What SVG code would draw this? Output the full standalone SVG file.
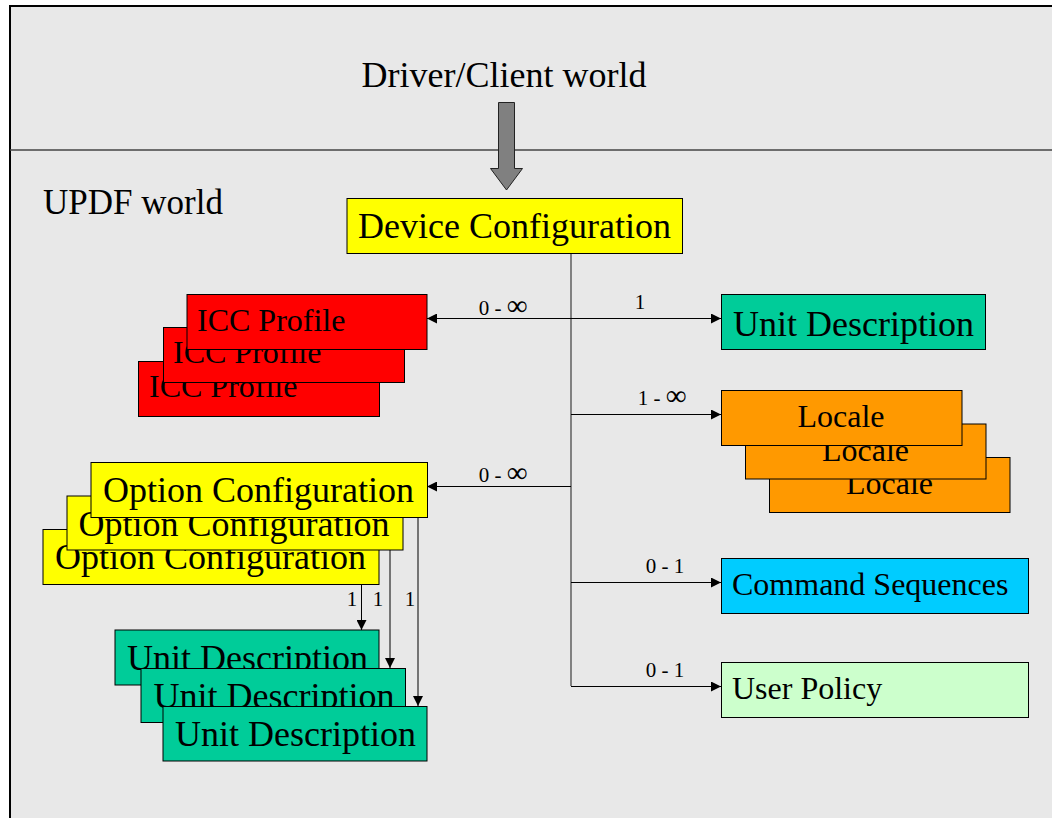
<svg xmlns="http://www.w3.org/2000/svg" width="1052" height="818" viewBox="0 0 1052 818">
  <style>
    text { font-family: "Liberation Serif", "Times New Roman", serif; fill: #000; }
    .big { font-size: 36px; }
    .mid { font-size: 32px; }
    .lbl { font-size: 21px; text-anchor: middle; }
    .inf { font-size: 29px; }
    .box { stroke: #000; stroke-width: 1; }
    .icc { fill: #ff0000; }
    .yel { fill: #ffff00; }
    .grn { fill: #00cc99; }
    .org { fill: #ff9900; }
    .cya { fill: #00ccff; }
    .pal { fill: #ccffcc; }
    .wire { fill: none; stroke: #000; stroke-width: 1; }
    .trunk { fill: none; stroke: #666; stroke-width: 1.6; }
  </style>
  <defs>
    <marker id="ah" viewBox="0 0 10 10" refX="10" refY="5" markerWidth="10" markerHeight="10" markerUnits="userSpaceOnUse" orient="auto-start-reverse">
      <path d="M0,0 L10,5 L0,10 Z" fill="#000"/>
    </marker>
  </defs>

  <!-- page and frame -->
  <rect x="0" y="0" width="1052" height="818" fill="#ffffff"/>
  <rect x="10" y="6" width="1042" height="812" fill="#e8e8e8"/>
  <path d="M10,818 L10,6 L1052,6" fill="none" stroke="#000" stroke-width="2"/>
  <line x1="10" y1="150" x2="1052" y2="150" stroke="#444" stroke-width="1.5"/>

  <text x="504" y="87" class="big" text-anchor="middle">Driver/Client world</text>
  <text x="43" y="214" style="font-size:35px">UPDF world</text>

  <!-- hand-off arrow -->
  <path d="M498.5,102.5 L514.5,102.5 L514.5,168.5 L522.5,168.5 L506.5,190 L490.5,168.5 L498.5,168.5 Z" fill="#808080" stroke="#222" stroke-width="1"/>

  <g id="connectors">
    <line class="trunk" x1="571" y1="253" x2="571" y2="686"/>
    <line class="wire" x1="571" y1="318.5" x2="427" y2="318.5" marker-end="url(#ah)"/>
    <line class="wire" x1="571" y1="318.5" x2="721" y2="318.5" marker-end="url(#ah)"/>
    <line class="wire" x1="571" y1="414.5" x2="721" y2="414.5" marker-end="url(#ah)"/>
    <line class="wire" x1="571" y1="486.5" x2="427" y2="486.5" marker-end="url(#ah)"/>
    <line class="wire" x1="571" y1="582.5" x2="721" y2="582.5" marker-end="url(#ah)"/>
    <line class="wire" x1="571" y1="686.5" x2="721" y2="686.5" marker-end="url(#ah)"/>
    <line class="wire" x1="361.5" y1="584" x2="361.5" y2="630" marker-end="url(#ah)"/>
    <line class="wire" x1="390" y1="550" x2="390" y2="668" stroke="#555" marker-end="url(#ah)"/>
    <line class="wire" x1="418" y1="517" x2="418" y2="706" stroke="#555" marker-end="url(#ah)"/>
    <text x="503" y="315" class="lbl">0 - <tspan class="inf">∞</tspan></text>
    <text x="640" y="309" class="lbl">1</text>
    <text x="662" y="405" class="lbl">1 - <tspan class="inf">∞</tspan></text>
    <text x="503" y="482" class="lbl">0 - <tspan class="inf">∞</tspan></text>
    <text x="665" y="573" class="lbl">0 - 1</text>
    <text x="665" y="677" class="lbl">0 - 1</text>
    <text x="352" y="606" class="lbl">1</text>
    <text x="378" y="606" class="lbl">1</text>
    <text x="410" y="606" class="lbl">1</text>
  </g>

  <g id="device-configuration">
    <rect class="box yel" x="347" y="198.5" width="335.5" height="55"/>
    <text x="514.5" y="238" class="big" text-anchor="middle">Device Configuration</text>
  </g>

  <g id="icc-profile">
    <rect class="box icc" x="138.5" y="361.5" width="241" height="55"/>
    <text x="149" y="397" class="mid">ICC Profile</text>
    <rect class="box icc" x="163.5" y="327.5" width="241" height="55"/>
    <text x="173" y="363" class="mid">ICC Profile</text>
    <rect class="box icc" x="187" y="294.5" width="240" height="55"/>
    <text x="197" y="331" class="mid">ICC Profile</text>
  </g>

  <g id="unit-description">
    <rect class="box grn" x="721.5" y="294.5" width="264" height="55"/>
    <text x="733" y="336" class="big">Unit Description</text>
  </g>

  <g id="locale">
    <rect class="box org" x="769.5" y="457.5" width="240.5" height="55"/>
    <text x="889.5" y="494" class="mid" text-anchor="middle">Locale</text>
    <rect class="box org" x="745.5" y="424" width="240.5" height="55"/>
    <text x="865.5" y="460.5" class="mid" text-anchor="middle">Locale</text>
    <rect class="box org" x="721.5" y="390.5" width="240.5" height="55"/>
    <text x="841" y="427" class="mid" text-anchor="middle">Locale</text>
  </g>

  <g id="option-configuration">
    <rect class="box yel" x="43" y="529.5" width="336" height="55"/>
    <text x="55" y="568.5" class="big">Option Configuration</text>
    <rect class="box yel" x="67" y="496" width="336" height="54"/>
    <text x="78.5" y="536" class="big">Option Configuration</text>
    <rect class="box yel" x="91" y="462.5" width="336.5" height="55"/>
    <text x="103" y="502" class="big">Option Configuration</text>
  </g>

  <g id="option-unit-description">
    <rect class="box grn" x="115" y="630" width="264" height="55"/>
    <text x="127" y="669.5" class="big">Unit Description</text>
    <rect class="box grn" x="141" y="668.5" width="264.5" height="54"/>
    <text x="153.5" y="708" class="big">Unit Description</text>
    <rect class="box grn" x="163" y="706.5" width="264" height="54.5"/>
    <text x="175" y="746" class="big">Unit Description</text>
  </g>

  <g id="command-sequences">
    <rect class="box cya" x="721.5" y="558.5" width="307" height="55"/>
    <text x="732" y="595" class="mid">Command Sequences</text>
  </g>

  <g id="user-policy">
    <rect class="box pal" x="721.5" y="662.5" width="307" height="55"/>
    <text x="732" y="698.5" class="mid">User Policy</text>
  </g>
</svg>
